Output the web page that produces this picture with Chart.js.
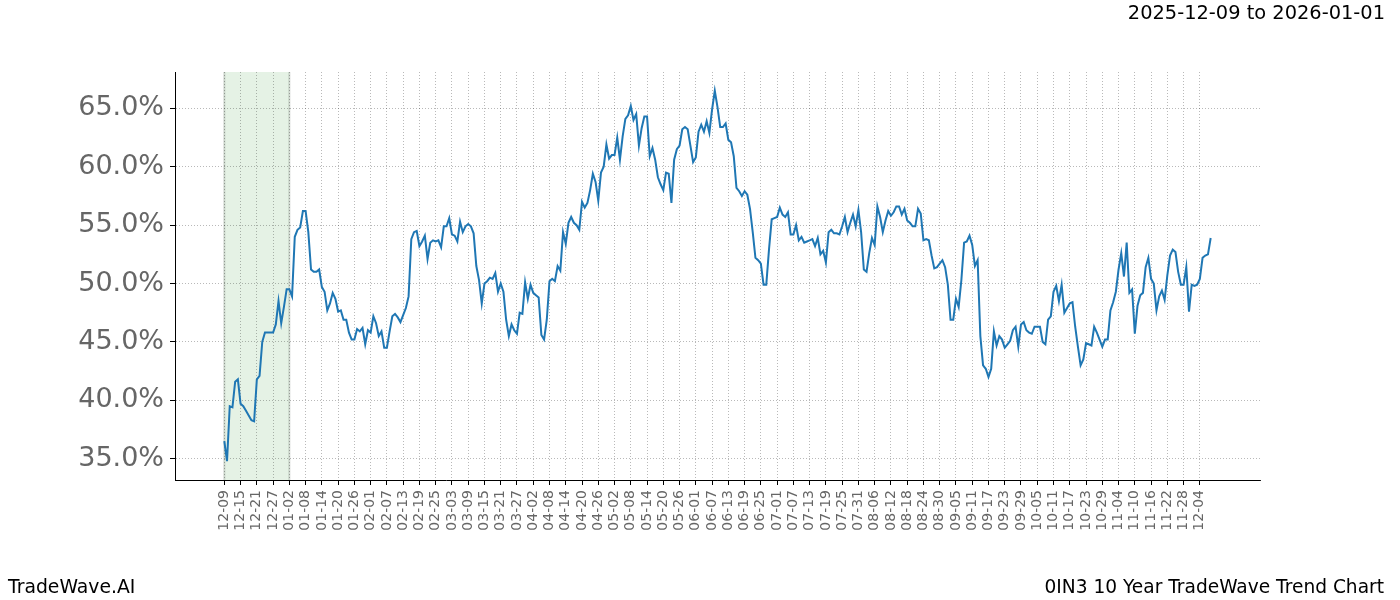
<!DOCTYPE html>
<html lang="en">

<head>
  <meta charset="UTF-8">
  <title>0IN3 10 Year TradeWave Trend Chart</title>
  <script src="https://cdn.jsdelivr.net/npm/chart.js"></script>
  <style>
    body {
      margin: 0;
      background: #fff;
      font-family: 'DejaVu Sans', sans-serif;
    }

    #wrap {
      position: relative;
      width: 1400px;
      height: 600px;
    }

    .note {
      position: absolute;
      color: #000;
      white-space: nowrap;
      line-height: 1;
    }
  </style>
</head>

<body>
  <div id="wrap">
    <canvas id="trendChart" width="1400" height="600"></canvas>
    <div class="note" id="range" style="right: 15px; top: 3px; font-size: 19.4px;">2025-12-09 to 2026-01-01</div>
    <div class="note" id="brand" style="left: 8px; top: 578px; font-size: 18.8px;">TradeWave.AI</div>
    <div class="note" id="caption" style="right: 16px; top: 578px; font-size: 18.6px;">0IN3 10 Year TradeWave Trend Chart</div>
  </div>
  <script>
    // one value per calendar day, starting 2024-12-09 (index = day offset)
    const trendValues = [
      36.5, 34.8, 39.5, 39.4, 41.6, 41.8, 39.7, 39.5, 39.1, 38.7,
      38.3, 38.2, 41.8, 42.1, 45.0, 45.8, 45.8, 45.8, 45.8, 46.5,
      48.5, 46.6, 48.0, 49.5, 49.5, 48.9, 54.0, 54.6, 54.8, 56.2,
      56.2, 54.4, 51.2, 51.0, 51.0, 51.2, 49.7, 49.3, 47.7, 48.3,
      49.2, 48.7, 47.6, 47.7, 46.9, 46.9, 45.8, 45.2, 45.2, 46.1,
      45.9, 46.2, 44.8, 46.0, 45.8, 47.2, 46.6, 45.5, 45.9, 44.5,
      44.5, 45.9, 47.2, 47.4, 47.1, 46.7, 47.3, 47.9, 48.9, 53.8,
      54.4, 54.5, 53.2, 53.6, 54.1, 52.1, 53.5, 53.7, 53.6, 53.7,
      53.1, 54.9, 54.9, 55.6, 54.2, 54.1, 53.6, 55.3, 54.4, 54.9,
      55.1, 54.9, 54.3, 51.5, 50.3, 48.3, 50.0, 50.2, 50.5, 50.4,
      50.9, 49.3, 50.0, 49.3, 46.9, 45.5, 46.5, 46.0, 45.7, 47.5,
      47.4, 50.1, 48.7, 49.9, 49.2, 49.0, 48.8, 45.6, 45.2, 46.9,
      50.2, 50.4, 50.2, 51.5, 51.1, 54.4, 53.4, 55.2, 55.7, 55.2,
      55.0, 54.6, 57.0, 56.5, 56.9, 58.0, 59.4, 58.7, 57.1, 59.5,
      60.0, 61.9, 60.7, 61.0, 61.0, 62.5, 60.6, 62.6, 64.1, 64.4,
      65.2, 64.0, 64.5, 61.8, 63.3, 64.3, 64.3, 60.9, 61.6, 60.6,
      59.1, 58.5, 58.0, 59.5, 59.4, 56.9, 60.6, 61.5, 61.8, 63.2,
      63.4, 63.2, 61.8, 60.4, 60.8, 63.0, 63.6, 63.0, 63.9, 62.9,
      64.9, 66.5, 65.1, 63.4, 63.4, 63.7, 62.3, 62.1, 60.9, 58.2,
      57.9, 57.5, 57.9, 57.6, 56.4, 54.4, 52.2, 52.0, 51.7, 49.9,
      49.9, 52.9, 55.5, 55.6, 55.7, 56.5, 55.9, 55.7, 56.1, 54.2,
      54.2, 55.0, 53.7, 54.0, 53.5, 53.6, 53.7, 53.8, 53.2, 53.9,
      52.5, 52.8, 51.8, 54.4, 54.6, 54.3, 54.3, 54.2, 54.9, 55.7,
      54.4, 55.2, 55.9, 54.9, 56.3, 54.4, 51.2, 51.0, 52.6, 53.9,
      53.3, 56.6, 55.7, 54.4, 55.4, 56.2, 55.8, 56.1, 56.6, 56.6,
      55.9, 56.4, 55.4, 55.2, 54.9, 54.9, 56.4, 56.0, 53.7, 53.8,
      53.7, 52.4, 51.3, 51.4, 51.7, 52.0, 51.4, 49.9, 46.9, 46.9,
      48.7, 48.0, 50.3, 53.5, 53.6, 54.1, 53.3, 51.5, 52.0, 45.5,
      43.0, 42.7, 42.0, 42.7, 45.9, 44.7, 45.5, 45.2, 44.5, 44.8,
      45.1, 46.0, 46.3, 44.6, 46.5, 46.7, 46.0, 45.8, 45.7, 46.3,
      46.3, 46.3, 45.0, 44.8, 46.9, 47.2, 49.3, 49.8, 48.5, 49.9,
      47.5, 47.9, 48.3, 48.4, 46.3, 44.6, 43.0, 43.5, 44.9, 44.8,
      44.7, 46.3, 45.8, 45.2, 44.6, 45.2, 45.2, 47.7, 48.4, 49.3,
      51.2, 52.6, 50.6, 53.5, 49.2, 49.5, 45.7, 48.1, 49.0, 49.2,
      51.4, 52.2, 50.4, 50.0, 47.7, 48.9, 49.4, 48.6, 50.7, 52.4,
      52.9, 52.7, 51.0, 49.9, 49.9, 51.4, 47.6, 49.9, 49.8, 49.9,
      50.4, 52.2, 52.4, 52.5, 53.9
    ];

    // x tick labels, one every 6 days from day 0
    const xTickLabels = [
      '12-09', '12-15', '12-21', '12-27', '01-02', '01-08', '01-14', '01-20', '01-26', '02-01',
      '02-07', '02-13', '02-19', '02-25', '03-03', '03-09', '03-15', '03-21', '03-27', '04-02',
      '04-08', '04-14', '04-20', '04-26', '05-02', '05-08', '05-14', '05-20', '05-26', '06-01',
      '06-07', '06-13', '06-19', '06-25', '07-01', '07-07', '07-13', '07-19', '07-25', '07-31',
      '08-06', '08-12', '08-18', '08-24', '08-30', '09-05', '09-11', '09-17', '09-23', '09-29',
      '10-05', '10-11', '10-17', '10-23', '10-29', '11-04', '11-10', '11-16', '11-22', '11-28',
      '12-04'
    ];
    const xTickStep = 6;

    const yTicks = [35, 40, 45, 50, 55, 60, 65];

    // shaded window (day offsets)
    const shadeStart = 0;
    const shadeEnd = 24;

    const points = trendValues.map((v, i) => ({ x: i, y: v }));

    // green band behind the grid
    const shadePlugin = {
      id: 'shade',
      beforeDraw(chart) {
        const { ctx, chartArea, scales } = chart;
        const x0 = scales.x.getPixelForValue(shadeStart);
        const x1 = scales.x.getPixelForValue(shadeEnd);
        ctx.save();
        ctx.fillStyle = 'rgba(0, 128, 0, 0.1)';
        ctx.fillRect(x0, chartArea.top, x1 - x0, chartArea.bottom - chartArea.top);
        ctx.strokeStyle = 'rgba(90, 110, 90, 0.25)';
        ctx.lineWidth = 2;
        ctx.beginPath();
        ctx.moveTo(x0, chartArea.top);
        ctx.lineTo(x0, chartArea.bottom);
        ctx.moveTo(x1, chartArea.top);
        ctx.lineTo(x1, chartArea.bottom);
        ctx.stroke();
        ctx.restore();
      }
    };

    const gridOpts = {
      color: 'rgba(0, 0, 0, 0.35)',
      lineWidth: 0.8,
      tickColor: '#000',
      tickWidth: 1,
      tickLength: 5,
      tickBorderDash: [],
    };
    const borderOpts = { display: true, color: '#000', width: 1, dash: [1, 2] };

    const ctx = document.getElementById('trendChart').getContext('2d');

    new Chart(ctx, {
      type: 'line',
      data: {
        datasets: [{
          data: points,
          borderColor: '#1f77b4',
          borderWidth: 2,
          pointRadius: 0,
          tension: 0,
          fill: false,
        }]
      },
      options: {
        responsive: false,
        maintainAspectRatio: false,
        animation: false,
        layout: {
          padding: { left: 0, right: 140, top: 72, bottom: 0 }
        },
        plugins: {
          legend: { display: false },
          tooltip: { enabled: false },
        },
        scales: {
          x: {
            type: 'linear',
            min: -18.2,
            max: 382.2,
            afterBuildTicks: (axis) => {
              axis.ticks = xTickLabels.map((l, i) => ({ value: i * xTickStep }));
            },
            afterFit: (axis) => { axis.height = 120; },
            ticks: {
              autoSkip: false,
              minRotation: 90,
              maxRotation: 90,
              padding: 5,
              color: '#666',
              font: { family: 'DejaVu Sans', size: 14 },
              callback: (v) => xTickLabels[Math.round(v / xTickStep)],
            },
            grid: gridOpts,
            border: borderOpts,
          },
          y: {
            type: 'linear',
            min: 33.18,
            max: 68.11,
            afterBuildTicks: (axis) => {
              axis.ticks = yTicks.map((v) => ({ value: v }));
            },
            afterFit: (axis) => { axis.width = 175; },
            ticks: {
              padding: 6,
              color: '#666',
              font: { family: 'DejaVu Sans', size: 27 },
              callback: (v) => v.toFixed(1) + '%',
            },
            grid: gridOpts,
            border: borderOpts,
          }
        }
      },
      plugins: [shadePlugin]
    });
  </script>
</body>

</html>
